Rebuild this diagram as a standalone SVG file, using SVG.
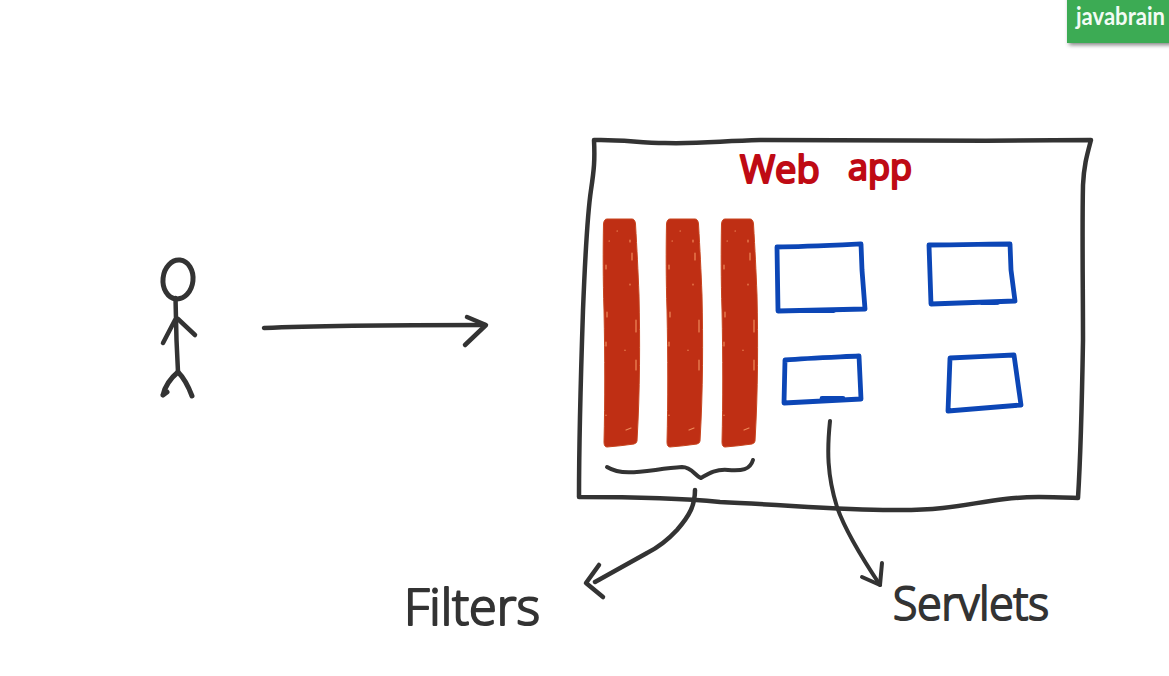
<svg xmlns="http://www.w3.org/2000/svg" width="1169" height="676" viewBox="0 0 1169 676">
<style>
.ink{fill:none;stroke:#333;stroke-width:4.500;stroke-linecap:round;stroke-linejoin:round}
.thin{stroke-width:4}
.blue{fill:none;stroke:#0c46b6;stroke-width:4.800;stroke-linecap:round;stroke-linejoin:round}
.bar{fill:#bf2f14;stroke:#c8451f;stroke-width:1}
.speck{fill:none;stroke:#ee8a5a;stroke-width:1.200;stroke-linecap:round}
.hand{font-family:"Open Sans","Liberation Sans",sans-serif;font-weight:300;fill:#333;stroke:#333;stroke-width:2.200;stroke-linejoin:round}
.title{font-family:"Open Sans","Liberation Sans",sans-serif;font-weight:400;fill:#bf0a14;stroke:#bf0a14;stroke-width:2.200;stroke-linejoin:round}
.badge{font-family:"Lato","Open Sans",sans-serif;font-size:24px;font-weight:700;fill:#f2fbf4}
</style>
<defs>
<filter id="sh" x="-10%" y="-20%" width="120%" height="150%"><feGaussianBlur stdDeviation="2"/></filter>
<g id="specks">
<path class="speck" d="M9 241 h.5 M17 231 h.5 M30 240 v2 M32 253 v7 M6 265 v4 M30 284 v1 M7 312 v5 M36 320 v12 M6 342 v4 M36 360 v10 M25 350 v.5 M6 415 v.5 M26 430 l5 -2"/>
</g>
</defs>
<rect width="1169" height="676" fill="#fff"/>
<g id="badge">
<rect x="1069" y="-4" width="104" height="49" fill="#555" opacity="0.75" filter="url(#sh)"/>
<rect x="1067" y="0" width="102" height="43" fill="#3cab54"/>
<text class="badge" x="1076" y="25" textLength="89" lengthAdjust="spacingAndGlyphs">javabrain</text>
</g>
<g id="user">
<ellipse class="ink" cx="178" cy="279.500" rx="15" ry="19.500" transform="rotate(6 178 279.500)" style="stroke-width:5"/>
<path class="ink" d="M175.500 298 L176.500 340 L178 372"/>
<path class="ink" d="M175 320 L163 343 M178 319 L195 335"/>
<path class="ink" d="M163 395 Q166 382 178 372 Q186 380 192 396 M163 395 L167 392" style="stroke-width:5"/>
</g>
<g id="webapp">
<path class="ink" d="M594 140 C620 139 640 143 665 143 C700 144 720 141 760 140 C860 141 980 141 1091 140 C1087 155 1084 165 1083 185 C1082 230 1083 290 1083 340 C1082 400 1081 450 1078 498 C1050 497 1030 496 1005 499 C970 503 950 510 900 510 C850 511 790 505 720 502 C680 498 630 497 579 497 C579 440 581 370 583 310 C585 260 588 210 591 190 C594 170 595 160 594 140 Z"/>
<text class="title" x="740" y="183" font-size="38">Web <tspan x="848" y="180" font-size="36">app</tspan></text>
</g>
<g id="filter-1"><path class="bar" d="M607 219 L632 219 Q635 219 635.500 224 C637 250 638 270 639 295 C640 340 640 390 637 441 Q637 443 634 444 Q620 446 607 447 Q604 447 604 442 C605 400 605 360 604 310 C603 280 603 250 603.500 224 Q604 219 607 219 Z"/><use href="#specks" x="600"/></g>
<g id="filter-2"><path class="bar" d="M670 219 L695 219 Q698 219 698.500 224 C700 250 701 270 702 295 C703 340 703 390 700 441 Q700 443 697 444 Q683 446 670 447 Q667 447 667 442 C668 400 668 360 667 310 C666 280 666 250 666.500 224 Q667 219 670 219 Z"/><use href="#specks" x="663"/></g>
<g id="filter-3"><path class="bar" d="M725 219 L750 219 Q753 219 753.500 224 C755 250 756 270 757 295 C758 340 758 390 755 441 Q755 443 752 444 Q738 446 725 447 Q722 447 722 442 C723 400 723 360 722 310 C721 280 721 250 721.500 224 Q722 219 725 219 Z"/><use href="#specks" x="718"/></g>
<g id="servlet-1"><path class="blue" d="M777 247 C800 247 840 245 861 244 L862 270 L865 309 L778 311 Z M806 310.500 H834"/></g>
<g id="servlet-2"><path class="blue" d="M929 245 C960 245 990 244 1010 244 L1011 270 L1015 301 L931 304 Z M981 302.500 H998"/></g>
<g id="servlet-3"><path class="blue" d="M785 360 C810 358 840 357 859 356 L861 399 L784 403 Z M822 398.500 H843"/></g>
<g id="servlet-4"><path class="blue" d="M950 358 C970 357 995 356 1014 355 L1021 405 L948 411 L950 358 Z"/></g>
<g id="labels">
<text class="hand" x="404" y="625" font-size="50" textLength="136" lengthAdjust="spacingAndGlyphs">Filters</text>
<text class="hand" x="893" y="620" font-size="46" textLength="156" lengthAdjust="spacingAndGlyphs">Servlets</text>
</g>
<g id="connectors">
<path class="ink" d="M264 328 C330 325 420 325 485 325"/>
<path class="ink" d="M467 317 L486 325 L465 345"/>
<path class="ink thin" d="M607 467 C625 478 650 469 682 467 C692 467 695 476 701 478 C708 474 715 469 728 470 C742 471 750 470 753 460"/>
<path class="ink" d="M695 490 C695 505 690 515 677 530 C665 543 655 549 647 553 L595 582"/>
<path class="ink" d="M599 565 L586 583 L603 597"/>
<path class="ink thin" d="M830 421 C827 450 827 475 837 507 C845 530 860 555 880 585"/>
<path class="ink thin" d="M882 563 L880 585 L862 577"/>
</g>
</svg>
